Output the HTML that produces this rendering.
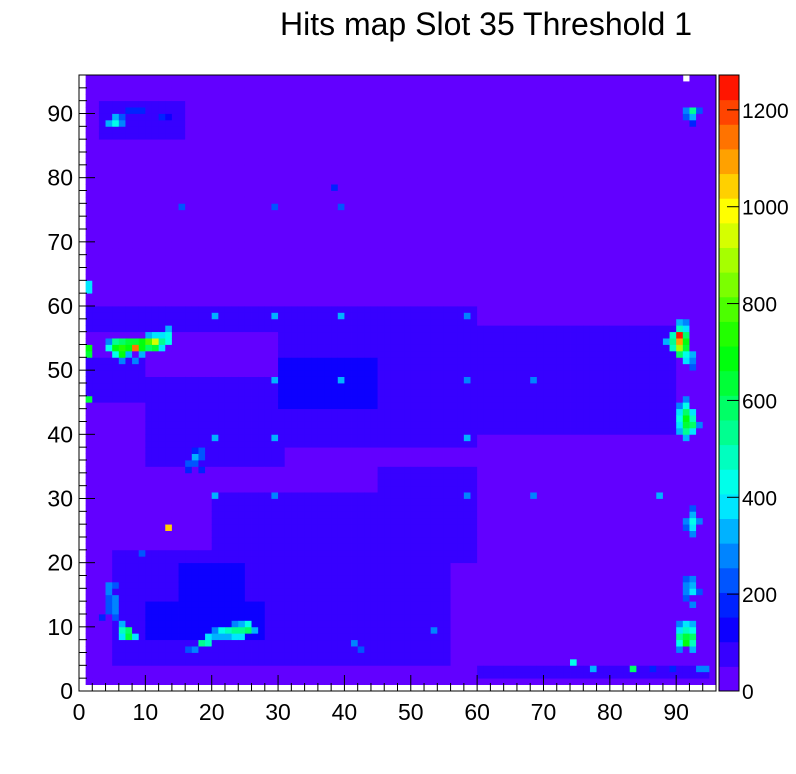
<!DOCTYPE html>
<html><head><meta charset="utf-8"><style>
body{margin:0;background:#fff;width:796px;height:769px;overflow:hidden}
svg text{font-family:"Liberation Sans",sans-serif}
</style></head><body>
<svg id="chart" width="796" height="769" xmlns="http://www.w3.org/2000/svg">
<rect width="796" height="769" fill="#fff"/>
<text x="486" y="35" font-size="32" text-anchor="middle">Hits map Slot 35 Threshold 1</text>
<g id="cells"></g>
<g id="cbar"></g>
<g id="axes"></g>
</svg>
<script>
// background level and blue mottled regions: [x0,y0,x1,y1,value]
const baseValue = 40;
const regions = [
 [1,1,95,95,40],
 [5,4,56,22,80],[20,22,46,31,75],[10,35,31,49,70],[30,38,60,57,80],
 [60,40,90,57,60],[1,56,60,60,65],[60,2,95,4,70],[45,20,60,35,65],[1,45,10,52,60],
 [10,8,28,14,110],[30,44,45,52,105],[3,86,16,92,80],[15,14,25,20,105],[40,5,50,10,100]
];
// hotspot cells: [x,y,value]
const hotspots = [
 [4,88,350],[5,88,450],[5,89,350],[6,89,250],[6,88,300],[7,90,200],[8,90,200],[9,90,180],[12,89,160],[13,89,150],
 [92,89,350],[92,90,550],[91,90,300],[93,90,250],[91,89,250],[92,88,200],
 [1,52,650],[1,53,700],[1,45,650],[1,62,400],[1,63,380],
 [4,53,450],[5,53,700],[5,52,450],[6,52,700],[6,53,750],[7,53,700],[7,54,650],[8,53,1150],[9,53,700],[9,54,700],[10,54,800],[11,54,950],[11,53,650],[12,54,550],[12,55,400],[13,54,450],[13,55,450],[13,56,350],[12,53,400],[6,51,300],[8,51,300],[10,53,600],[4,54,300],[5,54,550],[6,54,600],[8,54,650],[9,52,350],[10,55,350],[11,55,400],[7,52,350],
 [89,53,500],[89,54,550],[89,55,500],[90,55,1250],[90,54,1100],[90,53,900],[90,56,500],[91,54,700],[91,53,650],[91,55,600],[91,52,450],[91,51,400],[92,52,350],[90,52,600],[91,56,400],[88,54,350],[91,57,300],[92,51,300],[92,50,250],[90,57,350],
 [90,41,400],[90,42,450],[90,43,400],[91,40,550],[91,41,650],[91,42,700],[91,43,600],[91,44,450],[92,41,600],[92,42,500],[90,40,350],[92,40,400],[93,41,300],[91,39,350],[92,43,400],[90,44,300],[91,45,300],
 [16,35,250],[17,36,330],[18,37,250],[17,35,220],[16,34,200],[18,34,200],[17,37,200],[18,36,220],
 [92,25,380],[92,26,450],[92,27,350],[91,25,250],[93,26,300],[92,28,250],[91,26,300],[92,24,300],
 [91,15,300],[92,16,350],[92,15,400],[91,14,250],[93,15,250],[92,13,300],[91,17,250],[92,17,280],[91,16,280],
 [90,7,450],[90,8,550],[91,7,700],[91,8,650],[92,8,600],[91,9,500],[90,9,400],[92,7,500],[91,10,400],[90,6,300],[92,6,350],[92,9,450],[90,10,300],[92,10,350],
 [4,15,280],[4,16,300],[5,14,260],[5,13,280],[5,12,300],[6,10,350],[6,9,500],[7,8,650],[7,9,600],[8,8,400],[3,11,200],[4,12,220],[4,14,250],[5,11,250],[6,8,400],[5,16,220],[4,13,250],
 [16,6,250],[17,6,300],[18,7,550],[19,7,500],[20,8,350],[21,9,450],[22,9,500],[23,9,520],[24,9,550],[25,9,600],[24,8,400],[25,10,420],[23,10,300],[20,9,300],[19,8,400],[21,8,350],[22,8,350],[23,8,380],[24,10,350],[26,9,350],
 [20,58,350],[29,58,350],[39,58,350],[58,58,300],
 [29,48,350],[39,48,350],[58,48,300],[68,48,300],
 [20,39,350],[29,39,350],[58,39,350],
 [20,30,350],[29,30,300],[58,30,300],[68,30,300],[87,30,350],
 [15,75,250],[29,75,250],[39,75,250],[38,78,200],
 [13,25,1050],[9,21,250],[41,7,300],[42,6,250],[53,9,300],[74,4,450],[83,3,600],[86,3,200],[89,3,200],[93,3,300],[94,3,300],[77,3,350]
];
const whiteCells = [[91,95],[0,36]];
const cmin = 0, cmax = 1272, nLevels = 25;
const xTicks = [0,10,20,30,40,50,60,70,80,90];
const yTicks = [0,10,20,30,40,50,60,70,80,90];
const cTicks = [0,200,400,600,800,1000,1200];

const NS = "http://www.w3.org/2000/svg";
const X0 = 79, X1 = 716, Y0 = 691, Y1 = 75, NB = 96;
const sx = v => X0 + (v/NB)*(X1-X0);
const sy = v => Y0 - (v/NB)*(Y0-Y1);
const cy = v => Y0 - ((v-cmin)/(cmax-cmin))*(Y0-Y1);
const hueStops = [[0,268],[150,238],[400,182],[700,120],[1000,58],[1272,0]];
function color(v){
  let lvl = Math.min(nLevels-1, Math.floor((v-cmin)/(cmax-cmin)*nLevels));
  let q = (lvl+0.5)/nLevels*(cmax-cmin)+cmin;
  let h = 0;
  for (let i=0;i<hueStops.length-1;i++){
    const a=hueStops[i], b=hueStops[i+1];
    if (q>=a[0] && q<=b[0]) { h = a[1]+(b[1]-a[1])*(q-a[0])/(b[0]-a[0]); }
  }
  return `hsl(${h.toFixed(0)},100%,50%)`;
}
function mk(tag, attrs, parent){ const e=document.createElementNS(NS,tag); for (const k in attrs) e.setAttribute(k,attrs[k]); parent.appendChild(e); return e; }

const grid = [];
for (let i=0;i<NB;i++){ grid.push(new Array(NB).fill(null)); }
regions.forEach(r=>{ for(let x=r[0];x<r[2];x++) for(let y=r[1];y<r[3];y++) grid[x][y]=r[4]; });
for (let y=1;y<NB;y++) if(grid[95][y]===null) grid[95][y]=baseValue;
for (let x=1;x<NB;x++) if(grid[x][95]===null) grid[x][95]=baseValue;
hotspots.forEach(h=>{ grid[h[0]][h[1]]=h[2]; });
whiteCells.forEach(w=>{ grid[w[0]][w[1]]=null; });

const cells = document.getElementById('cells');
for (let x=0;x<NB;x++) for (let y=0;y<NB;y++){
  const v = grid[x][y]; if (v===null) continue;
  const r = mk('rect',{x:sx(x).toFixed(2),y:sy(y+1).toFixed(2),width:(sx(x+1)-sx(x)+0.4).toFixed(2),height:(sy(y)-sy(y+1)+0.4).toFixed(2),fill:color(v)},cells);
  
  
}

const cb = document.getElementById('cbar');
for (let l=0;l<nLevels;l++){
  const a = cmin + l*(cmax-cmin)/nLevels, b = cmin+(l+1)*(cmax-cmin)/nLevels;
  const r = mk('rect',{x:719,y:cy(b).toFixed(2),width:20,height:(cy(a)-cy(b)+0.5).toFixed(2),fill:color((a+b)/2)},cb);
  
  
}
mk('rect',{x:719,y:Y1,width:20,height:Y0-Y1,fill:'none',stroke:'#000','stroke-width':1},cb);
cTicks.forEach(t=>{
  mk('line',{x1:727,x2:739,y1:cy(t),y2:cy(t),stroke:'#000'},cb);
  const tx = mk('text',{x:742,y:cy(t)+8,'font-size':21},cb); tx.textContent=t;
  
  
});

const ax = document.getElementById('axes');
mk('rect',{x:X0,y:Y1,width:X1-X0,height:Y0-Y1,fill:'none',stroke:'#000','stroke-width':1},ax);
for (let v=0; v<=NB; v+=2){
  const big = v%10===0;
  mk('line',{x1:sx(v),x2:sx(v),y1:Y0,y2:Y0-(big?16:8),stroke:'#000'},ax);
  mk('line',{x1:X0,x2:X0+(big?16:8),y1:sy(v),y2:sy(v),stroke:'#000'},ax);
}
xTicks.forEach(t=>{
  const tx = mk('text',{x:sx(t),y:720,'font-size':23,'text-anchor':'middle'},ax); tx.textContent=t;
  
  
});
yTicks.forEach(t=>{
  const tx = mk('text',{x:73,y:sy(t)+8,'font-size':23,'text-anchor':'end'},ax); tx.textContent=t;
  
  
});
</script>
</body></html>
